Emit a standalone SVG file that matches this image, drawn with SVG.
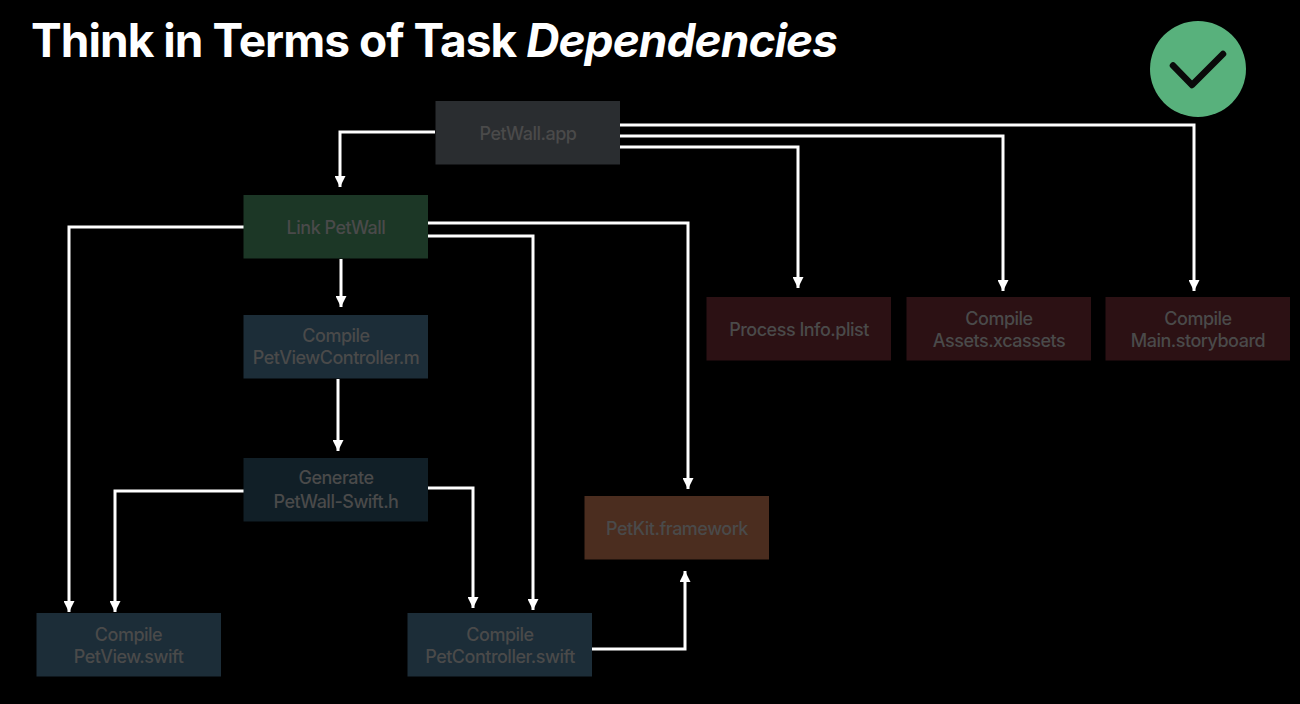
<svg xmlns="http://www.w3.org/2000/svg" width="1300" height="704" viewBox="0 0 1300 704">
<style>
text{font-family:"Inter","Liberation Sans",sans-serif}
.l{font-size:18px;fill:#4a4a4a;text-anchor:middle;font-weight:500;letter-spacing:-.5px}
.t{font-size:46px;font-weight:700;fill:#fff;letter-spacing:-.95px}
.c{fill:none;stroke:#fff;stroke-width:3}
.n{width:184.5px;height:63.5px}
</style>
<defs><marker id="b" markerUnits="userSpaceOnUse" markerWidth="12" markerHeight="11" refX="10" refY="5" orient="auto" viewBox="0 0 10 10"><path d="M0 0L10 5L0 10Z" fill="#fff"/></marker></defs>
<rect width="1300" height="704" fill="#000"/>
<text class="t" x="31" y="57">Think in Terms of Task <tspan font-style="italic">Dependencies</tspan></text>
<g id="check"><circle cx="1198" cy="69" r="48" fill="#58b17c"/><path d="M1173 65.500L1192 85L1223 54" fill="none" stroke="#0a0a0a" stroke-width="6.500" stroke-linecap="round" stroke-linejoin="round"/></g>
<g id="connectors">
<path class="c" marker-end="url(#b)" d="M435 132H340V187"/>
<path class="c" marker-end="url(#b)" d="M620 125H1194V291"/>
<path class="c" marker-end="url(#b)" d="M620 136H1003V291"/>
<path class="c" marker-end="url(#b)" d="M620 147H798V288"/>
<path class="c" marker-end="url(#b)" d="M244 227H69V612"/>
<path class="c" marker-end="url(#b)" d="M428 223H688V489"/>
<path class="c" marker-end="url(#b)" d="M428 236H533V610"/>
<path class="c" marker-end="url(#b)" d="M341 259V307"/>
<path class="c" marker-end="url(#b)" d="M338 379V451"/>
<path class="c" marker-end="url(#b)" d="M244 491H115V612"/>
<path class="c" marker-end="url(#b)" d="M428 488H473V608"/>
<path class="c" marker-end="url(#b)" d="M592 649H685V571"/>
</g>
<g id="petwall-app"><rect class="n" x="435.500" y="101" fill="#2a2d30"/><text class="l" x="528" y="140">PetWall.app</text></g>
<g id="link-petwall"><rect class="n" x="243.500" y="195" fill="#1c3726"/><text class="l" x="336" y="234">Link PetWall</text></g>
<g id="compile-petviewcontroller"><rect class="n" x="243.500" y="315" fill="#1c2d38"/><text class="l" x="336" y="342">Compile</text><text class="l" x="336" y="364">PetViewController.m</text></g>
<g id="generate-swift-h"><rect class="n" x="243.500" y="458" fill="#111f27"/><text class="l" x="336" y="484">Generate</text><text class="l" x="336" y="508">PetWall-Swift.h</text></g>
<g id="compile-petview"><rect class="n" x="36.500" y="613" fill="#1c2d38"/><text class="l" x="128.500" y="641">Compile</text><text class="l" x="128.500" y="663">PetView.swift</text></g>
<g id="compile-petcontroller"><rect class="n" x="407.500" y="613" fill="#1c2d38"/><text class="l" x="500" y="641">Compile</text><text class="l" x="500" y="663">PetController.swift</text></g>
<g id="petkit-framework"><rect class="n" x="584.500" y="496" fill="#4b2d1f"/><text class="l" x="677" y="535">PetKit.framework</text></g>
<g id="process-info"><rect class="n" x="706.500" y="297" fill="#2c1114"/><text class="l" x="799" y="336">Process Info.plist</text></g>
<g id="compile-assets"><rect class="n" x="906.500" y="297" fill="#2c1114"/><text class="l" x="999" y="325">Compile</text><text class="l" x="999" y="347">Assets.xcassets</text></g>
<g id="compile-storyboard"><rect class="n" x="1105.500" y="297" fill="#2c1114"/><text class="l" x="1198" y="325">Compile</text><text class="l" x="1198" y="347">Main.storyboard</text></g>
</svg>
